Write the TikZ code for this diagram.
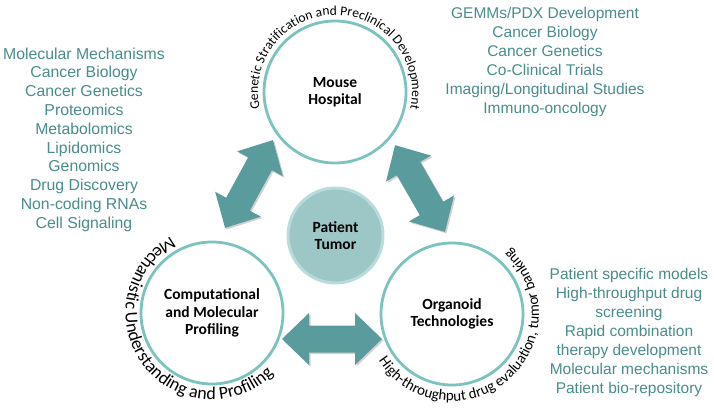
\documentclass[tikz,border=0pt]{standalone}
\usepackage{fontspec}
\setmainfont{Liberation Sans}
\newfontfamily\carl{Carlito}
\newfontfamily\lib{Liberation Sans}
\usetikzlibrary{decorations.text}
\definecolor{listc}{HTML}{4A8C8C}
\definecolor{arrowc}{HTML}{5A9B9D}
\definecolor{ringc}{HTML}{7CC3BF}
\definecolor{tumorfill}{HTML}{9DC6C6}
\definecolor{tumorring}{HTML}{B9DBD9}
\def\arrowpath{(-50,0) -- (-23,26) -- (-23,13.5) -- (23,13.5) -- (23,26) -- (50,0) -- (23,-26) -- (23,-13.5) -- (-23,-13.5) -- (-23,-26) -- cycle}
\newcommand\dblarrow[2]{%
  \begin{scope}[shift={(1.5,-1.5)}]\begin{scope}[shift={#1},rotate=#2]\fill[black,opacity=.18] \arrowpath;\end{scope}\end{scope}
  \begin{scope}[shift={#1},rotate=#2]\fill[arrowc] \arrowpath;\end{scope}}
\begin{document}
\begin{tikzpicture}[x=1pt,y=1pt,
  hub/.style={circle, draw=ringc, line width=2.8pt, fill=white, minimum size=142pt, inner sep=0pt, align=center,
    font=\carl\bfseries\fontsize{15.5}{17.5}\selectfont},
  tumor/.style={circle, draw=tumorring, line width=3pt, fill=tumorfill, minimum size=95pt, inner sep=0pt, align=center,
    font=\carl\bfseries\fontsize{15.5}{17.5}\selectfont},
  list/.style={text=listc, align=center, inner sep=0pt, font=\lib\mdseries\fontsize{15.5}{19}\selectfont}]
\useasboundingbox (0,0) rectangle (714,408);
\fill[white] (0,0) rectangle (714,408);

% lists
\node[list, font=\lib\mdseries\fontsize{15.8}{18.8}\selectfont] (leftlist) at (84,268.4) {Molecular Mechanisms\\Cancer Biology\\Cancer Genetics\\Proteomics\\Metabolomics\\Lipidomics\\Genomics\\Drug Discovery\\Non-coding RNAs\\Cell Signaling};
\node[list] (toplist) at (545,346.4) {GEMMs/PDX Development\\Cancer Biology\\Cancer Genetics\\Co-Clinical Trials\\Imaging/Longitudinal Studies\\Immuno-oncology};
\node[list] (botlist) at (629,76) {Patient specific models\\High-throughput drug\\screening\\Rapid combination\\therapy development\\Molecular mechanisms\\Patient bio-repository};

% arrows
\dblarrow{(249,224)}{61.4}
\dblarrow{(420,219.5)}{-60.1}
\dblarrow{(332,69)}{0}

% circles
\node[hub] (mouse) at (335,316) {Mouse\\Hospital};
\node[hub] (comp) at (212,95) {Computational\\and Molecular\\Profiling};
\node[hub] (org) at (452,94) {Organoid\\Technologies};
\node[tumor] (tumor) at (335.5,172.5) {Patient\\Tumor};

% curved labels
\path[decorate, decoration={text along path, text align=center,
  text={|\carl\fontsize{13.5}{13.5}\selectfont|Genetic Stratification and Preclinical Development}}]
  (mouse.center) ++(240:77) arc[start angle=240, end angle=-60, radius=77];
\path[decorate, decoration={text along path, text align=center,
  text={|\carl\fontsize{18}{18}\selectfont|Mechanistic Understanding and Profiling}}]
  (comp.center) ++(67:86.5) arc[start angle=67, end angle=367, radius=86.5];
\path[decorate, decoration={text along path, text align=center,
  text={|\carl\fontsize{15}{15}\selectfont|High-throughput drug evaluation, tumor banking}}]
  (org.center) ++(160.5:87) arc[start angle=160.5, end angle=460.5, radius=87];
\end{tikzpicture}
\end{document}
